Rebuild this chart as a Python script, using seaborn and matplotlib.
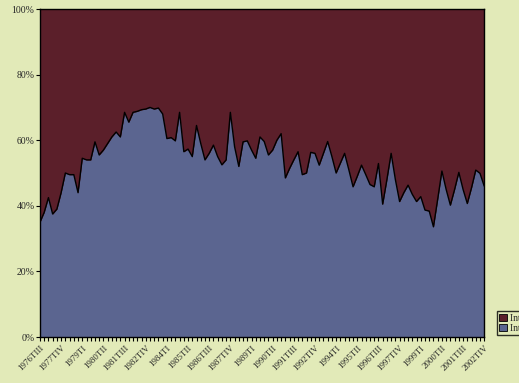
import matplotlib
matplotlib.use("Agg")
import matplotlib.pyplot as plt
import seaborn as sns
import numpy as np
import pandas as pd
from matplotlib.patches import Patch

# quarterly share (%) of the lower series, 1976TIII .. 2002TIV
share_internal = [
    35, 38, 42.5, 37.5, 39, 44, 50, 49.5, 49.5, 44,
    54.5, 54, 54, 59.5, 55.5, 57, 59, 61, 62.5, 61,
    68.5, 65.5, 68.5, 68.8, 69.3, 69.5, 70, 69.5, 69.8, 68,
    60.5, 60.8, 59.8, 68.5, 56.5, 57.3, 55, 64.5, 59, 54,
    56, 58.5, 55, 52.5, 54, 68.5, 58, 52, 59.5, 59.8,
    57, 54.5, 61, 59.6, 55.5, 57, 60, 62, 48.5, 51.4,
    54, 56.5, 49.5, 50, 56.3, 56, 52.4, 56, 59.6, 55,
    50, 53, 56, 51, 45.8, 49, 52.4, 49.5, 46.5, 45.8,
    52.9, 40.5, 48, 56, 48, 41.3, 44, 46.3, 43.5, 41.3,
    42.8, 38.7, 38.4, 33.6, 42, 50.6, 45, 40.2, 45, 50.2,
    45, 40.7, 45.5, 50.9, 49.9, 46,
]
roman = ["I", "II", "III", "IV"]
quarters = []
for k in range(len(share_internal)):
    q = 2 + k  # starts at third quarter of 1976
    quarters.append(f"{1976 + q // 4}T{roman[q % 4]}")
labels = ["Intereses externos", "Intereses internos"]

df = pd.DataFrame({"quarter": quarters, "internal": share_internal})
df["pos"] = np.arange(len(df))
df["external"] = 100 - df["internal"]

bg = "#e2eab8"
red = "#5b1f2a"
blue = "#5b6590"

sns.set_style("white")
plt.rcParams["font.family"] = ["Liberation Serif", "DejaVu Serif"]

fig = plt.figure(figsize=(5.19, 3.83), dpi=100, facecolor=bg)
ax = fig.add_axes([0.077, 0.12, 0.856, 0.8565])
ax.set_facecolor(red)

ax.stackplot(df["pos"], df["internal"], df["external"], colors=[blue, red], linewidth=0)
sns.lineplot(data=df, x="pos", y="internal", color="black", linewidth=1.0, ax=ax)

ax.set_xlim(0, len(df) - 1)
ax.set_ylim(0, 100)
ax.set_xlabel("")
ax.set_ylabel("")

ax.set_yticks(range(0, 101, 20))
ax.set_yticklabels([f"{v}%" for v in range(0, 101, 20)], fontsize=7)
ax.set_xticks(df["pos"][::5])
ax.set_xticklabels(df["quarter"][::5], rotation=45, ha="right", rotation_mode="anchor", fontsize=6.5)
ax.set_xticks(df["pos"], minor=True)
ax.tick_params(axis="x", which="both", direction="out", length=3, width=0.8, color="black", bottom=True, pad=2)
ax.tick_params(axis="y", direction="out", length=3, width=0.8, color="black", left=True, pad=1)
for s in ax.spines.values():
    s.set_color("black")
    s.set_linewidth(1.0)

handles = [Patch(facecolor=red, edgecolor="black", linewidth=0.6),
           Patch(facecolor=blue, edgecolor="black", linewidth=0.6)]
fig.legend(handles, labels, loc="upper left", bbox_to_anchor=(0.948, 0.2), fontsize=7,
           frameon=True, fancybox=False, edgecolor="black", facecolor=bg,
           handlelength=0.8, handleheight=0.8, handletextpad=0.3, borderpad=0.25, labelspacing=0.1)

fig.savefig("out.png", dpi=100, facecolor=bg)
